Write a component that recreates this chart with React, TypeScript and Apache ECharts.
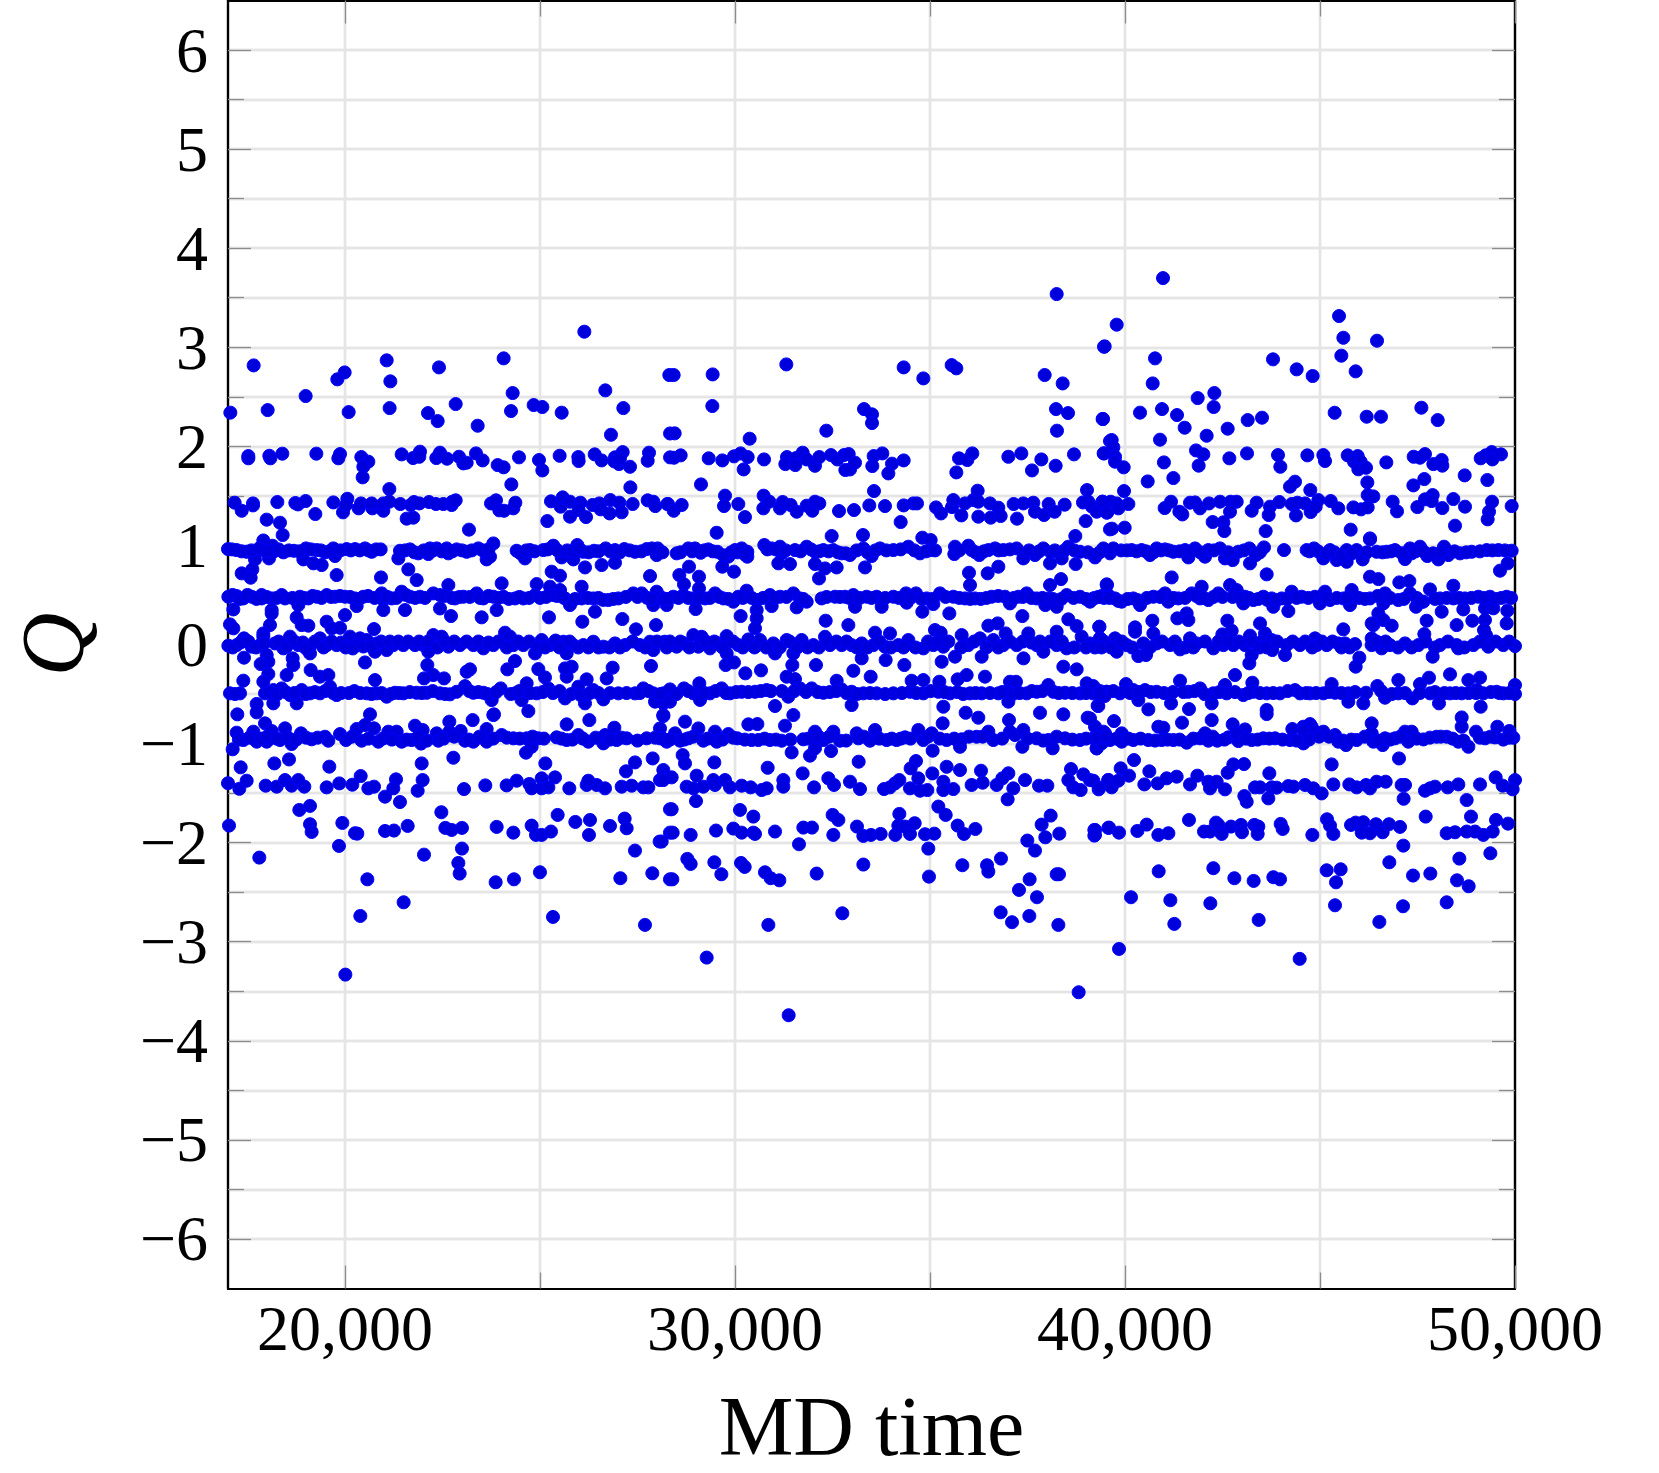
import React, { useEffect, useRef } from "react";
import * as echarts from "echarts";

const xMajor = [20000, 30000, 40000, 50000];
const xMinor = [25000, 35000, 45000];
const yMajor = [-6, -5, -4, -3, -2, -1, 0, 1, 2, 3, 4, 5, 6];
const yMinor = [-5.5, -4.5, -3.5, -2.5, -1.5, -0.5, 0.5, 1.5, 2.5, 3.5, 4.5, 5.5];

const upperLeft = [
[26137,3.157],[17658,2.817],[19991,2.746],[19803,2.676],[21069,2.868],[21163,2.656],[22410,2.797],[24068,2.888],[24299,2.538],[26675,2.565],[28316,2.72],[17060,2.34],[18017,2.366],[18991,2.508],[20094,2.346],[21145,2.386],[22128,2.336],[22376,2.255],[22838,2.427],[23402,2.208],[24257,2.356],[24838,2.417],[25060,2.397],[25556,2.34],[27137,2.386],[26820,2.117],[28335,2.13],
[17521,1.902],[17521,1.879],[18060,1.905],[18086,1.879],[18393,1.926],[19265,1.926],[19872,1.922],[19829,1.879],[20419,1.892],[20598,1.845],[20470,1.794],[20453,1.687],[21453,1.919],[21744,1.882],[21923,1.946],[21906,1.895],[22342,1.882],[22436,1.936],[22616,1.875],[22923,1.895],[23034,1.828],[23120,1.835],[23359,1.929],[23530,1.858],[23915,1.811],[24068,1.788],[24462,1.889],[24265,1.616],[24974,1.862],[25060,1.757],[25504,1.905],[25983,1.892],[25991,1.852],[26402,1.919],[26581,1.858],[26923,1.889],[26906,1.848],[27026,1.821],[27120,1.942],[27051,1.879],[27308,1.794],[27317,1.586],[27795,1.936],[27761,1.855],[28335,1.889],[21137,1.569],
[17171,1.431],[17351,1.35],[17641,1.424],[17641,1.404],[17992,1.26],[18333,1.229],[18402,1.105],[17906,1.05],[18265,1.438],[18727,1.428],[18795,1.414],[18991,1.448],[19239,1.317],[19701,1.434],[19949,1.334],[20060,1.471],[20026,1.408],[20351,1.374],[20410,1.424],[20701,1.374],[20684,1.424],[20983,1.35],[20983,1.424],[21137,1.441],[21419,1.418],[21684,1.408],[21769,1.438],[21906,1.424],[22154,1.438],[22333,1.418],[22521,1.418],[22735,1.408],[22752,1.441],[22838,1.455],[21581,1.27],[21752,1.28],[23179,1.159],[23744,1.424],[23872,1.455],[23957,1.354],[24077,1.35],[24316,1.374],[24368,1.431],[25188,1.246],[25282,1.445],[25530,1.391],[25581,1.485],[25769,1.441],[25769,1.29],[26034,1.431],[25991,1.357],[26180,1.286],[26350,1.408],[26521,1.424],[26555,1.364],[26786,1.323],[26803,1.458],[27034,1.431],[27094,1.334],[27376,1.418],[27761,1.455],[27906,1.441],[27957,1.397],[28282,1.418],
];

const bandsLeft = [
[17000,.963],[17222,.953],[17479,.936],[17692,.92],[17906,.953],[18137,.997],[18419,.93],[18163,.936],[18692,.946],[19000,.97],[19274,.953],[19487,.93],[19701,.97],[19744,.893],[18932,.859],[19188,.819],[19402,.802],[18051,.869],[17692,.859],[17624,.758],[17351,.718],[17581,.674],[19786,.701],[20043,.963],[20257,.963],[20513,.97],[20684,.936],[20915,.96],[21368,.869],[21410,.946],[21667,.96],[21880,.92],[22137,.913],[22180,.97],[22351,.97],[22607,.97],[22650,.92],[22863,.96],[23120,.936],[23419,.97],[23804,1.02],[23632,.859],[23718,.886],[24402,.946],[24615,.869],[24744,.953],[25085,.953],[25342,.997],[25556,.879],[25855,.859],[25957,1.004],[26111,.936],[26385,.946],[26581,.802],[26684,.97],[26923,.825],[26923,.953],[27162,.963],[27436,.936],[27735,.963],[27991,.903],[28017,.97],[26154,.778],[25299,.735],[25513,.694],[27821,.691],[20923,.677],[21624,.758],[21838,.65],[24017,.617],[24915,.61],
[17009,.482],[17222,.489],[17393,.465],[17607,.482],[17863,.465],[17863,.499],[18120,.465],[18376,.499],[18462,.465],[18846,.482],[18804,.398],[19060,.465],[19274,.482],[19530,.499],[19744,.482],[20000,.482],[20257,.465],[20470,.482],[20940,.516],[20983,.449],[21197,.465],[21453,.533],[21667,.482],[21923,.482],[22265,.516],[22436,.499],[22650,.6],[22821,.465],[23034,.482],[23376,.516],[23547,.465],[23804,.482],[24060,.482],[24359,.465],[24573,.465],[24872,.499],[25256,.583],[25513,.55],[25342,.499],[25641,.465],[25769,.398],[26068,.583],[26068,.465],[26367,.465],[26410,.331],[26752,.449],[27009,.465],[27393,.516],[27607,.516],[27991,.533],[27906,.398],[28248,.398],[28077,.482],
[17137,.354],[18120,.348],[18120,.314],[20983,.348],[21538,.348],[22436,.364],[20000,.297],[20299,.388],[22718,.287],[23504,.274],[23889,.348],[25231,.274],[26085,.23],[27111,.257],[27461,.153],[27974,.196],[18761,.274],[18889,.196],[19060,.19],[19530,.23],[19658,.163],[19872,.169],[20744,.156],[18077,.196],[17051,.203],[17137,.163],[17906,.112],
[17009,-.012],[17222,-.006],[17410,.062],[17607,-.022],[17821,-.006],[17906,.079],[18205,.011],[18419,-.039],[18590,.079],[18804,-.006],[19103,-.022],[19103,-.09],[19359,.062],[19530,-.006],[19786,-.006],[20128,.079],[20385,.062],[20299,-.006],[20556,.045],[20769,-.073],[20812,.011],[21068,-.056],[21239,-.006],[21496,-.006],[21795,-.006],[22009,-.006],[22137,-.073],[22265,.095],[22479,.079],[22650,-.022],[22949,-.006],[23291,-.006],[23547,-.039],[23804,-.006],[24103,.119],[24231,.079],[24316,-.006],[24573,-.006],[24872,-.09],[25043,.045],[25256,-.006],[25598,.028],[25684,-.09],[25855,-.006],[26111,-.006],[26368,.028],[26624,-.022],[26923,.011],[27180,-.006],[27564,-.006],[27821,.028],[27906,-.056],[28205,.028],
[17410,-.133],[17992,-.106],[18034,-.174],[17838,-.197],[20513,-.181],[18658,-.14],[18675,-.207],[22111,-.207],[22265,-.308],[22026,-.342],[22539,-.342],[23120,-.275],[23205,-.251],[24162,-.251],[24359,-.167],[24957,-.248],[25128,-.332],[25684,-.325],[25812,-.224],[25641,-.241],[26196,-.352],[26710,-.342],[26863,-.234],[27846,-.217],[19120,-.258],[19359,-.325],[19573,-.308],[18034,-.298],[18504,-.308],[17906,-.375],[17393,-.365],[20769,-.359],
[17051,-.493],[17308,-.493],[17949,-.493],[18163,-.46],[18376,-.443],[18590,-.51],[18761,-.594],[18889,-.46],[19103,-.493],[19359,-.493],[19615,-.426],[19786,-.51],[20239,-.47],[20556,-.493],[20812,-.493],[21068,-.527],[21282,-.487],[21496,-.493],[21838,-.487],[22094,-.487],[22436,-.493],[22692,-.503],[22863,-.477],[23077,-.42],[23291,-.487],[23547,-.487],[23761,-.561],[23992,-.443],[24359,-.493],[24530,-.561],[24658,-.392],[24915,-.493],[25214,-.443],[25641,-.544],[25983,-.426],[26154,-.594],[26368,-.46],[26624,-.554],[27009,-.493],[27436,-.493],[27650,-.443],[27906,-.493],[27949,-.577],[28248,-.493],[18162,-.594],[24701,-.672],[23803,-.712],[28162,-.594],
[17735,-.6],[17735,-.685],[17239,-.705],[20641,-.705],[23273,-.763],[22675,-.779],[23820,-.705],[25684,-.806],[26265,-.763],[28162,-.722],[28077,-.847],[26906,-.84],
[17222,-.89],[17393,-.964],[17650,-.88],[17735,-.981],[17949,-.796],[17992,-.981],[18120,-.873],[18333,-.964],[18462,-.846],[18632,-1.005],[18872,-.897],[19145,-.957],[19487,-.931],[19573,-.971],[19872,-.904],[20026,-.964],[20299,-.853],[20427,-.971],[20513,-.813],[20744,-.846],[20855,-.981],[21111,-.88],[21325,-.88],[21453,-.981],[21709,-.964],[21795,-.82],[21991,-.863],[21949,-1.0],[22351,-.897],[22393,-.971],[22675,-.88],[22966,-.873],[23077,-.971],[23291,-.981],[23632,-.853],[23632,-.981],[24017,-.914],[24316,-.947],[24658,-.947],[24957,-.947],[24786,-1.032],[24641,-1.092],[25427,-.937],[25684,-.964],[25983,-.914],[26239,-.981],[26624,-.998],[26667,-.914],[26966,-.964],[27222,-.947],[27735,-.947],[28077,-.947],[28248,-.981],[17120,-1.058],
[17325,-1.24],[18188,-1.2],[18564,-1.16],[19598,-1.233],[21966,-1.2],[22778,-1.143],[25137,-1.2],[27436,-1.19],[27205,-1.28],[27889,-1.15],[28162,-1.267],
[17000,-1.4],[17291,-1.456],[17479,-1.375],[17966,-1.425],[18248,-1.435],[18462,-1.368],[18632,-1.425],[18803,-1.368],[18957,-1.435],[19530,-1.442],[19855,-1.402],[20188,-1.415],[20402,-1.328],[20598,-1.452],[20744,-1.435],[21308,-1.361],[21239,-1.452],[21991,-1.368],[21863,-1.476],[21026,-1.536],[21410,-1.59],[23051,-1.459],[23598,-1.422],[24145,-1.422],[24402,-1.375],[24727,-1.408],[24786,-1.452],[25043,-1.351],[25043,-1.452],[25214,-1.442],[25385,-1.341],[25752,-1.452],[26197,-1.418],[26453,-1.418],[26667,-1.452],[27094,-1.435],[27350,-1.425],[27650,-1.442],[27778,-1.442],[28162,-1.351],[26239,-1.375],[28077,-1.368],
];

const lowerLeft = [
[18829,-1.67],[19103,-1.629],[19103,-1.814],[19145,-1.892],[19932,-1.801],[20316,-1.909],[20257,-1.905],[21026,-1.882],[21256,-1.878],[21607,-1.831],[22470,-1.693],[22573,-1.851],[22735,-1.872],[22999,-1.851],[23889,-1.841],[24316,-1.899],[24786,-1.828],[24897,-1.922],[25043,-1.922],[25282,-1.888],[25453,-1.72],[25906,-1.791],[26282,-1.771],[26256,-1.922],[26795,-1.831],[27171,-1.757],[27222,-1.855],[28333,-1.663],[28333,-1.899],[17026,-1.828],[17803,-2.151],[19846,-2.033],[22026,-2.121],[22999,-2.06],[22906,-2.205],[22940,-2.312],[27436,-2.08],[28068,-1.989],[20573,-2.37],[23863,-2.4],[24333,-2.37],[24999,-2.299],[27060,-2.359],[27880,-2.309],[28333,-2.37],[21504,-2.602],[20393,-2.74],[25333,-2.75],[27692,-2.83],[20009,-3.332],
];

const upperMiddle = [
[28427,2.72],[29427,2.726],[29419,2.407],[31316,2.827],[34325,2.797],[34829,2.686],[35556,2.82],[35675,2.787],[38248,3.537],[39462,3.005],[37940,2.72],[38402,2.635],[38231,2.376],[38539,2.336],[39427,2.276],[38256,2.158],[28453,2.131],[33308,2.376],[33513,2.323],[33513,2.235],[32342,2.158],[30376,2.077],
[28436,1.885],[28607,1.909],[29325,1.879],[29675,1.858],[29974,1.899],[30145,1.929],[30325,1.892],[30744,1.868],[30222,1.767],[31333,1.892],[31291,1.821],[31564,1.882],[31547,1.811],[31735,1.936],[31838,1.868],[32051,1.804],[32162,1.892],[32461,1.912],[32624,1.868],[32795,1.912],[32915,1.922],[32829,1.761],[32949,1.767],[33077,1.835],[33556,1.902],[33521,1.801],[33778,1.929],[34026,1.825],[33932,1.727],[34325,1.858],[35744,1.879],[35957,1.862],[36085,1.929],[35675,1.737],[37009,1.895],[37342,1.929],[37855,1.868],[37615,1.757],[38222,1.804],[38692,1.919],[39462,1.929],[39615,2.053],[29128,1.616],
[28265,1.418],[28427,1.35],[28633,1.408],[29744,1.502],[29718,1.397],[30085,1.418],[30256,1.286],[30735,1.502],[30727,1.374],[30880,1.441],[31154,1.374],[31222,1.438],[31427,1.408],[31581,1.34],[31838,1.401],[31983,1.35],[32051,1.441],[32162,1.424],[32667,1.347],[33051,1.357],[33444,1.404],[33846,1.397],[33564,1.549],[34325,1.404],[34573,1.424],[34667,1.424],[35154,1.384],[35282,1.323],[35564,1.387],[35598,1.458],[35803,1.303],[35897,1.424],[36111,1.458],[36222,1.552],[36239,1.441],[36239,1.29],[36538,1.424],[36556,1.28],[36752,1.381],[36812,1.297],[37145,1.418],[37393,1.424],[37649,1.431],[37231,1.27],[37692,1.34],[37923,1.307],[38043,1.418],[38197,1.34],[38453,1.411],[38923,1.434],[39060,1.441],[39026,1.559],[39154,1.391],[39274,1.34],[39427,1.441],[39530,1.33],[38992,1.246],[34248,1.236],[29530,1.128],[32479,1.095],[33282,1.105],[34803,1.078],[35017,1.054],[38726,1.095],[39615,1.162],
];

const bandsMiddle = [
[28504,.92],[28803,.97],[28974,.97],[29120,.926],[29316,.96],[29547,.936],[29829,.886],[30000,.953],[30171,.97],[30316,.886],[30316,.936],[30752,1.004],[30940,.97],[31154,.987],[31197,.92],[31538,.953],[31838,.987],[32051,.936],[32265,.953],[32521,.953],[32735,.92],[32949,.903],[33291,.97],[33504,.893],[33718,.97],[34060,.953],[34444,.987],[34744,.92],[35043,.953],[35641,.987],[35624,.913],[35983,.997],[36068,.953],[36265,.903],[36496,.953],[36667,.97],[36880,.953],[37222,.97],[37393,.869],[37692,.903],[37906,.97],[38376,.869],[38547,.987],[38846,.936],[39231,.879],[39444,.953],
[31111,.819],[31410,.812],[32051,.812],[32308,.768],[32607,.778],[33333,.778],[29675,.785],[29974,.735],[28821,.785],[28573,.701],[29077,.684],[28692,.607],[32154,.667],[38077,.819],[38735,.812],[36752,.785],[36479,.718],[36000,.724],[36026,.6],[38077,.6],[38359,.66],[39538,.6],[29077,.566],
[28162,.465],[28419,.482],[28675,.499],[28932,.465],[29231,.465],[29487,.516],[29701,.465],[29957,.432],[30085,.482],[30299,.543],[30556,.449],[30897,.499],[31154,.482],[31496,.516],[31667,.465],[31838,.432],[31581,.375],[30940,.388],[32222,.465],[32564,.482],[32821,.482],[33034,.499],[33077,.381],[33376,.482],[33632,.482],[33761,.381],[34060,.482],[34385,.516],[34402,.422],[34641,.516],[34914,.465],[35256,.516],[35085,.408],[35598,.482],[35897,.465],[36154,.465],[36581,.482],[37051,.415],[36923,.482],[37265,.482],[37478,.516],[37735,.465],[38034,.465],[37957,.398],[38248,.381],[38504,.499],[38846,.482],[39103,.432],[39359,.482],[39572,.499],
[28991,.358],[30145,.287],[30556,.348],[30556,.264],[30513,.163],[32325,.24],[32906,.196],[34803,.331],[35496,.314],[37368,.287],[38547,.254],[38760,.186],[39341,.179],[36496,.19],[36735,.213],[36940,.112],[35128,.146],[35274,.119],
[28162,.021],[28504,-.022],[28718,.011],[28932,.095],[29145,.078],[29060,-.022],[29359,-.039],[29573,.011],[29786,.085],[30085,-.006],[30342,.051],[30641,.045],[30983,.011],[31026,-.09],[31325,.045],[31496,-.09],[31709,.045],[32009,-.006],[32308,.078],[32436,-.006],[32735,-.006],[32991,-.006],[33248,.011],[33248,-.14],[33590,.119],[33547,-.006],[33974,.112],[33846,-.022],[34188,-.006],[34444,.045],[34829,-.039],[35085,-.006],[35342,-.022],[35299,-.174],[35641,-.123],[35812,.095],[35983,-.006],[36325,-.123],[36282,.062],[36624,.045],[36880,-.006],[37222,-.006],[37397,-.14],[37521,.112],[37735,-.006],[37906,-.073],[38248,.129],[38248,-.006],[38504,-.039],[38889,.079],[39102,.011],[39359,.062],[39530,-.006],
[29787,-.09],[29761,-.207],[29974,-.181],[31470,-.207],[32077,-.207],[33034,-.265],[33863,-.157],[34342,-.207],[38419,-.224],[38761,-.251],[30265,-.291],[30667,-.261],
[28162,-.493],[28333,-.453],[28333,-.577],[28692,-.443],[28932,-.493],[29085,-.392],[29103,-.56],[29359,-.493],[29658,-.443],[29872,-.493],[30171,-.477],[30513,-.477],[30812,-.46],[31026,-.621],[31325,-.325],[31538,-.349],[31367,-.527],[31667,-.443],[31966,-.443],[32265,-.487],[32607,-.366],[32735,-.453],[32991,-.611],[32991,-.477],[33291,-.493],[33479,-.325],[33632,-.493],[34060,-.493],[34487,-.477],[34530,-.366],[34829,-.359],[34829,-.493],[35214,-.477],[35239,-.376],[35513,-.493],[35709,-.352],[35940,-.308],[36026,-.493],[36410,-.325],[36325,-.493],[36752,-.493],[37009,-.577],[37051,-.376],[37205,-.376],[36966,-.477],[37479,-.493],[37735,-.477],[38034,-.409],[38162,-.477],[38462,-.487],[38846,-.493],[39017,-.392],[39179,-.493],[39530,-.477],[39299,-.618],
[28162,-.712],[28718,-.779],[31496,-.712],[31282,-.82],[30342,-.806],[30573,-.803],[35342,-.628],[35325,-.796],[35915,-.689],[36239,-.739],[37821,-.689],[38419,-.705],[37026,-.763],[39043,-.739],[39231,-.83],
[28205,-.964],[28462,-.897],[28590,-.971],[28803,-.947],[29060,-.847],[29188,-.971],[29487,-.88],[29530,-.981],[29829,-.904],[30060,-.947],[30427,-.964],[30598,-.964],[30897,-.964],[31197,-.971],[31752,-.957],[32051,-.88],[32265,-.964],[32521,-.88],[32692,-.971],[33120,-.897],[33162,-.947],[33461,-.971],[33590,-.863],[33889,-.964],[34145,-.964],[34359,-.937],[34701,-.863],[34829,-.964],[35043,-.897],[35068,-1.072],[35427,-.964],[35769,-1.032],[35812,-.957],[36196,-.931],[36496,-.88],[36624,-.964],[37051,-.88],[37179,-.914],[37368,-1.032],[37393,-.863],[37735,-.947],[38145,-1.048],[38034,-.964],[38462,-.947],[38846,-.964],[39274,-1.048],[39359,-.947],[39487,-.897],
[31453,-1.089],[31923,-1.122],[32051,-1.048],[32462,-1.075],[28658,-1.116],[28718,-1.2],[29470,-1.19],[30838,-1.244],[33171,-1.183],[34641,-1.176],[34504,-1.25],[35427,-1.234],[35769,-1.267],[36308,-1.274],[37009,-1.3],[38616,-1.257],[38932,-1.311],[31735,-1.301],[35060,-1.301],
[28162,-1.338],[28376,-1.341],[28162,-1.368],[28761,-1.435],[29017,-1.324],[28932,-1.452],[29188,-1.435],[29444,-1.368],[29487,-1.418],[29744,-1.368],[29872,-1.442],[30171,-1.425],[30402,-1.442],[30684,-1.469],[30812,-1.452],[31239,-1.368],[31239,-1.435],[32026,-1.442],[32393,-1.351],[32538,-1.418],[32949,-1.385],[33205,-1.459],[33820,-1.459],[33974,-1.442],[34103,-1.402],[34214,-1.368],[34487,-1.452],[34701,-1.351],[34744,-1.476],[34932,-1.469],[35342,-1.385],[35598,-1.459],[35342,-1.469],[36068,-1.418],[36350,-1.395],[36709,-1.418],[36855,-1.351],[37137,-1.452],[37436,-1.368],[37795,-1.425],[38009,-1.425],[38547,-1.368],[38675,-1.442],[38863,-1.469],[39102,-1.368],[39325,-1.462],[39572,-1.368],[36991,-1.563],[29000,-1.58],
];

const lowerMiddle = [
[28376,-1.663],[28402,-1.899],[28863,-1.922],[29513,-1.878],[29957,-1.858],[30171,-1.899],[30470,-1.737],[30128,-1.67],[30470,-1.899],[30513,-1.912],[31026,-1.888],[31641,-2.016],[31752,-1.848],[31974,-1.848],[32521,-1.922],[32504,-1.72],[32650,-1.771],[33128,-1.838],[33291,-1.932],[33487,-1.922],[33735,-1.912],[34111,-1.922],[34214,-1.71],[34188,-1.828],[34359,-1.838],[34487,-1.912],[34607,-1.804],[34872,-1.915],[35111,-1.909],[34957,-2.06],[35214,-1.636],[35402,-1.72],[35709,-1.828],[35872,-1.912],[36162,-1.862],[28120,-1.989],[37496,-1.979],[37692,-2.08],[37863,-1.818],[38094,-1.727],[37957,-1.946],[38316,-1.909],[39214,-1.872],[39214,-1.929],[39573,-1.851],[28778,-2.164],[28863,-2.215],[29470,-2.198],[29650,-2.319],[28393,-2.37],[30154,-2.205],[30248,-2.245],[30769,-2.299],[30915,-2.359],[31137,-2.38],[32094,-2.312],[33291,-2.221],[34974,-2.343],[35829,-2.228],[36462,-2.228],[36496,-2.292],[36820,-2.161],[37555,-2.37],[37282,-2.477],[37743,-2.551],[38248,-2.319],[38308,-2.319],[30855,-2.83],[32752,-2.713],[36812,-2.703],[37103,-2.803],[37547,-2.74],[38291,-2.83],[29274,-3.16],[31376,-3.742],[38812,-3.51],
];

const upperRight = [
[40975,3.698],[39787,3.228],[39479,3.009],[40770,2.888],[40710,2.635],[43795,2.878],[44402,2.777],[44812,2.71],[45488,3.315],[45599,3.096],[45547,2.915],[46462,3.066],[45915,2.757],[41864,2.487],[42291,2.538],[42274,2.397],[39436,2.276],[40385,2.34],[40949,2.376],[41334,2.316],[41530,2.188],[42094,2.107],[42633,2.178],[43146,2.265],[43513,2.289],[45376,2.339],[46197,2.299],[46564,2.299],[47599,2.39],[48018,2.265],[40898,2.067],[39659,2.064],[39701,1.99],[39453,1.929],[39744,1.895],[39744,1.845],[39966,1.788],[40998,1.838],[41821,1.959],[42009,1.919],[41889,1.805],[42676,1.879],[43129,1.929],[43923,1.912],[43983,1.794],[44676,1.909],[45086,1.912],[45129,1.852],[45710,1.909],[45966,1.902],[45872,1.845],[46043,1.845],[45983,1.768],[46180,1.784],[46701,1.838],[47402,1.895],[47564,1.885],[47692,1.922],[47906,1.821],[48120,1.862],[48137,1.805],[49120,1.879],[49248,1.909],[49402,1.942],[49419,1.868],[49641,1.919],[48710,1.707],[49291,1.66],[47675,1.67],[47394,1.606],[46214,1.636],[40582,1.646],[41240,1.68],[44359,1.643],[44231,1.593],[44752,1.559],
[39419,1.441],[39547,1.334],[39633,1.441],[39787,1.424],[39829,1.374],[40086,1.418],[39975,1.549],[41017,1.377],[41180,1.441],[41394,1.34],[41470,1.313],[41667,1.431],[41795,1.434],[41923,1.374],[42154,1.424],[42436,1.441],[42710,1.441],[42864,1.441],[42693,1.34],[42248,1.236],[42522,1.233],[42547,1.145],[43248,1.35],[43376,1.431],[43718,1.391],[43958,1.438],[44274,1.418],[44419,1.431],[44385,1.303],[44616,1.424],[44761,1.337],[44958,1.458],[44889,1.391],[45274,1.448],[45470,1.374],[45855,1.384],[46052,1.364],[46223,1.384],[46223,1.508],[46368,1.495],[46863,1.441],[46975,1.344],[47496,1.387],[47692,1.465],[47889,1.508],[47863,1.448],[48137,1.377],[48419,1.468],[48718,1.391],[49411,1.441],[49334,1.34],[49299,1.263],[49915,1.397],[43684,1.307],[43607,1.145],[45787,1.159],[46282,1.071],[48462,1.199],[39667,1.169],[39992,1.179],
];

const bandsRight = [
[39231,.903],[39445,.97],[39616,.92],[39701,.97],[40171,.953],[40427,.953],[40641,.903],[40812,.97],[41026,.96],[41240,.936],[41539,.953],[41624,.879],[41795,.97],[42052,.886],[42137,.953],[42436,.97],[42564,.869],[42761,.852],[42906,.936],[43205,.819],[43188,.97],[43359,.903],[43564,.98],[44077,.953],[44658,.953],[44847,.97],[45086,.869],[45257,.953],[45428,.852],[45684,.835],[45684,.953],[45940,.953],[46094,.859],[46282,1.061],[46453,.936],[46710,.936],[46923,.953],[47180,.862],[47308,.97],[47564,.987],[47351,.92],[47752,.893],[48034,.859],[48180,.987],[48291,.903],[48590,.92],[48890,.936],[49274,.953],[49573,.953],[49915,.947],[49812,.819],[49615,.745],
[41197,.677],[43633,.708],[46282,.684],[46496,.66],[47034,.627],[47291,.64],
[39188,.465],[39445,.499],[39744,.465],[39915,.432],[40214,.465],[40385,.398],[40727,.482],[41026,.516],[41111,.432],[41368,.465],[41710,.516],[41966,.583],[41924,.465],[42137,.449],[42393,.516],[42693,.6],[42864,.55],[43077,.482],[43034,.415],[43291,.449],[43547,.482],[43803,.381],[43761,.465],[44188,.338],[44017,.465],[44274,.533],[44530,.482],[44872,.482],[45000,.415],[45128,.533],[45257,.449],[45599,.465],[45812,.55],[45769,.398],[46282,.465],[46667,.516],[46624,.415],[47009,.449],[47308,.516],[47462,.381],[47650,.432],[47820,.556],[48120,.331],[48077,.465],[48419,.593],[48419,.465],[48675,.354],[48718,.465],[49060,.482],[49231,.365],[49445,.365],[49359,.482],[49786,.482],[49804,.341],[49786,.213],[39530,.607],
[46496,.314],[46624,.247],[46838,.19],[46368,.196],[46325,.213],[47735,.24],[48504,.196],[48906,.24],[49231,.247],[49205,.146],[49257,.095],[40701,.24],[41342,.264],[41581,.314],[41624,.247],[42624,.24],[43462,.213],[39342,.179],[40257,.173],[40257,.129],[40727,.112],[42735,.139],[42496,.102],[43205,.089],[43590,.112],[45598,.153],[46325,.062],[47675,.105],
[39231,-.006],[39359,.062],[39744,.062],[39530,-.006],[39787,-.073],[40043,-.006],[40470,.011],[40342,-.117],[40539,-.106],[40812,.011],[41154,-.006],[41411,-.049],[41667,.062],[41838,.011],[42265,-.039],[42522,-.006],[42778,-.006],[43077,-.006],[43248,-.106],[43188,-.19],[43505,.028],[43761,.045],[43778,-.056],[44103,-.106],[44145,-.006],[44487,-.006],[44872,.062],[44915,-.006],[45171,-.006],[45470,.011],[45641,.011],[45898,.004],[46325,-.006],[46581,-.039],[46795,-.006],[47180,.011],[47522,-.006],[47889,-.123],[48077,-.006],[48505,-.006],[48547,-.039],[48932,-.006],[49316,-.022],[49701,-.006],[50000,-.016],
[46009,-.133],[45915,-.224],[42821,-.308],[48334,-.301],
[39188,-.42],[39530,-.477],[39872,-.493],[40026,-.399],[40342,-.561],[40214,-.46],[40513,-.46],[40812,-.477],[40599,-.655],[41180,-.594],[41411,-.366],[41624,-.477],[41641,-.652],[41924,-.443],[42223,-.594],[42265,-.493],[42564,-.409],[42607,-.493],[43034,-.51],[43265,-.386],[43291,-.477],[43633,-.493],[43633,-.661],[43633,-.702],[43975,-.493],[44359,-.46],[44487,-.493],[44744,-.493],[45086,-.493],[45299,-.399],[45385,-.487],[45727,-.577],[45727,-.493],[46111,-.594],[46180,-.487],[46470,-.419],[46667,-.537],[47009,-.359],[47009,-.493],[47368,-.544],[47564,-.399],[47795,-.335],[47821,-.493],[48051,-.594],[48334,-.493],[48633,-.493],[48804,-.359],[49103,-.335],[49017,-.46],[49120,-.628],[49188,-.493],[49530,-.477],[49701,-.493],[50000,-.409],[50000,-.5],[39316,-.621],
[39103,-.746],[39718,-.773],[41462,-.789],[42223,-.763],[42761,-.806],[40855,-.83],[40983,-.84],[43077,-.857],[46325,-.796],[48633,-.736],[48633,-.83],[49547,-.83],[49855,-.873],[44291,-.853],[44573,-.83],[44744,-.803],[44786,-.83],
[39188,-.947],[39445,-.88],[39274,-1.048],[39402,-.998],[39616,-.964],[39915,-.897],[39915,-.981],[40214,-.964],[40598,-.964],[40940,-.964],[41239,-.964],[41581,-.991],[41924,-.947],[42052,-.897],[42137,-.971],[42368,-.971],[42650,-.937],[42906,-.974],[42864,-.897],[43248,-.964],[43547,-.947],[43847,-.947],[44231,-.964],[44573,-.998],[44573,-.863],[44872,-.88],[45086,-.88],[45385,-.914],[45470,-.981],[45667,-1.015],[45940,-.964],[46325,-.897],[46368,-.981],[46607,-1.015],[46667,-.947],[46923,-.947],[47180,-.88],[47351,-.88],[47265,-.981],[47650,-.958],[47992,-.931],[48248,-.931],[48547,-.981],[48804,-1.032],[49000,-.88],[49231,-.947],[49487,-.937],[49957,-.941],
[40231,-1.166],[39889,-1.25],[40103,-1.324],[40624,-1.28],[42778,-1.21],[43052,-1.207],[42633,-1.294],[43701,-1.3],[45299,-1.21],[47026,-1.15],
[39188,-1.375],[39342,-1.446],[39573,-1.368],[39658,-1.442],[39829,-1.375],[40496,-1.412],[40838,-1.402],[41069,-1.351],[41325,-1.334],[41667,-1.412],[41855,-1.324],[42137,-1.385],[42180,-1.452],[42351,-1.385],[42564,-1.462],[43060,-1.53],[43120,-1.587],[43334,-1.442],[43462,-1.442],[43675,-1.553],[43761,-1.442],[43889,-1.445],[44188,-1.429],[44316,-1.435],[44616,-1.418],[44829,-1.452],[45043,-1.503],[45342,-1.412],[45752,-1.412],[45940,-1.442],[46180,-1.418],[46282,-1.452],[46453,-1.385],[46684,-1.385],[47094,-1.418],[47180,-1.418],[47145,-1.557],[47692,-1.476],[47821,-1.452],[47949,-1.435],[48274,-1.442],[48547,-1.412],[49103,-1.412],[48761,-1.57],[49504,-1.341],[49684,-1.425],[50000,-1.368],[49940,-1.462],
];

const lowerRight = [
[39231,-1.872],[39231,-1.922],[39590,-1.848],[39847,-1.899],[40317,-1.882],[40556,-1.818],[40855,-1.922],[41112,-1.905],[41641,-1.771],[42026,-1.888],[42180,-1.888],[42334,-1.798],[42394,-1.821],[42479,-1.912],[42718,-1.838],[42975,-1.821],[43000,-1.895],[43317,-1.821],[43419,-1.838],[43402,-1.912],[43992,-1.811],[44043,-1.862],[44804,-1.922],[45180,-1.764],[45257,-1.828],[45342,-1.912],[45795,-1.821],[45915,-1.798],[46112,-1.794],[46069,-1.899],[46282,-1.905],[46436,-1.814],[46607,-1.895],[46769,-1.814],[47052,-1.841],[47710,-1.737],[48248,-1.905],[48462,-1.895],[48761,-1.888],[48975,-1.888],[49188,-1.922],[49428,-1.888],[48872,-1.737],[49513,-1.771],[49821,-1.808],[47137,-2.03],[40864,-2.289],[42265,-2.258],[42804,-2.359],[43299,-2.386],[43804,-2.349],[43975,-2.37],[45171,-2.279],[45530,-2.269],[45411,-2.4],[46778,-2.198],[47385,-2.332],[47829,-2.312],[48573,-2.161],[49368,-2.107],[48513,-2.38],[48812,-2.44],[40154,-2.551],[41163,-2.581],[42188,-2.612],[45385,-2.632],[47129,-2.642],[48248,-2.602],[41265,-2.82],[43428,-2.78],[46522,-2.8],[39847,-3.073],[44479,-3.173],
];

const bandNearOne = [
[17100,.96],[17350,.94],[17600,.95],[17800,.97],[18020,.94],[18300,.96],[18560,.95],[18830,.94],[19130,.96],[19380,.95],[19600,.94],[19880,.95],[20150,.95],[20380,.95],[20600,.95],[20800,.96],[21540,.95],[21780,.93],[22020,.95],[22260,.95],[22480,.94],[22750,.94],[23000,.95],[23250,.95],[23530,.95],[23680,.96],[24500,.92],[24650,.95],[24860,.94],[25200,.96],[25450,.95],[25700,.95],[25850,.94],[26000,.97],[26250,.93],[26500,.94],[26800,.94],[27050,.93],[27300,.95],[27600,.94],[27870,.97],[28140,.93],
[28600,.93],[28900,.94],[29210,.95],[29430,.94],[29700,.9],[29900,.93],[30070,.93],[30250,.91],[30830,.96],[31050,.96],[31300,.95],[31680,.94],[31950,.96],[32160,.94],[32400,.94],[32640,.93],[32840,.92],[33120,.95],[33400,.93],[33600,.95],[33880,.95],[34250,.96],[34600,.95],[34900,.94],[35130,.95],[35750,.95],[36170,.93],[36380,.94],[36760,.95],[37050,.96],[37540,.95],[37800,.94],[38100,.93],[38200,.95],[38450,.95],[38700,.95],[39050,.93],[39350,.93],
[39900,.95],[40050,.95],[40300,.94],[40540,.94],[40730,.93],[40920,.95],[41130,.95],[41400,.94],[41700,.94],[41930,.93],[42280,.95],[42650,.93],[43050,.95],[43460,.93],[44730,.94],[44950,.94],[45170,.92],[45370,.93],[45560,.9],[45820,.92],[46200,.93],[46600,.93],[46820,.94],[47100,.92],[47450,.94],[47650,.94],[47900,.92],[48100,.93],[48450,.94],[48750,.93],[49100,.94],[49420,.95],[49740,.95],
];

const bandNearHalf = [
[17120,.5],[17300,.46],[17500,.5],[17730,.46],[17990,.48],[18250,.47],[18650,.47],[18950,.47],[19170,.49],[19400,.47],[19640,.48],[19870,.49],[20130,.48],[20360,.46],[20590,.49],[20760,.47],[21090,.48],[21320,.47],[21560,.5],[21800,.47],[22050,.47],[22550,.49],[22740,.47],[22930,.48],[23200,.48],[23460,.47],[23680,.49],[23930,.47],[24200,.46],[24470,.48],[24720,.47],[25000,.47],[25160,.48],[25430,.49],[25580,.48],[25900,.46],[26230,.47],[26500,.47],[26620,.45],[26880,.46],[27200,.48],[27500,.48],[27750,.47],[27850,.46],[28180,.46],
[28290,.46],[28550,.47],[28800,.47],[29080,.47],[29360,.47],[29600,.48],[29830,.46],[30200,.47],[30430,.47],[30720,.47],[31030,.47],[31320,.48],[31750,.46],[32350,.48],[32690,.48],[32930,.47],[33200,.47],[33500,.47],[33850,.47],[34200,.47],[34500,.47],[34780,.46],[35070,.46],[35400,.48],[35750,.47],[36030,.46],[36300,.46],[36450,.47],[36750,.49],[37150,.47],[37380,.48],[37600,.47],[37880,.47],[38150,.46],[38370,.46],[38680,.47],[39000,.46],[39230,.47],[39460,.47],
[39310,.48],[39600,.47],[39830,.44],[40070,.46],[40310,.45],[40560,.47],[40900,.48],[41240,.47],[41540,.47],[41830,.49],[42030,.47],[42270,.48],[42500,.48],[42760,.48],[42960,.47],[43180,.47],[43420,.46],[43650,.45],[43890,.45],[44150,.46],[44400,.47],[44700,.47],[45170,.47],[45430,.47],[45700,.47],[46000,.47],[46150,.46],[46480,.49],[46800,.47],[47150,.46],[47480,.47],[47600,.43],[47950,.46],[48250,.47],[48570,.47],[48880,.47],[49200,.47],[49500,.46],[49650,.47],[49900,.47],
];

const bandNearZero = [
[17120,-.03],[17320,.02],[17520,.03],[17720,-.03],[17920,.01],[18300,.03],[18500,-.02],[18700,.03],[18920,.02],[19000,-.04],[19230,.03],[19450,-.03],[19660,.03],[19900,.02],[20020,-.03],[20200,-.04],[20470,-.02],[20670,-.02],[20930,.03],[21150,.03],[21370,.03],[21620,.03],[21900,.03],[22130,.03],[22370,-.03],[22560,.03],[22800,.03],[23120,.03],[23420,.03],[23680,.02],[23930,.03],[24150,-.03],[24440,.03],[24720,.03],[24950,-.03],[25130,-.03],[25400,.04],[25500,-.03],[25760,.03],[25980,-.03],[26240,-.03],[26500,-.03],[26780,-.03],[27050,-.03],[27370,.03],[27700,-.03],[28000,.03],[28250,-.03],
[28330,.03],[28600,.03],[28830,-.03],[29250,.03],[29470,.03],[29680,-.03],[29950,.03],[30200,-.03],[30500,-.03],[30800,-.03],[31150,-.03],[31400,.03],[31600,-.03],[31860,-.03],[32150,-.03],[32370,.03],[32600,.03],[32860,.03],[33120,-.03],[33400,-.03],[33700,.03],[34000,-.03],[34320,-.03],[34630,-.03],[34950,.03],[35220,.03],[35470,.03],[35800,-.03],[36130,.03],[36450,-.03],[36750,-.03],[37050,.03],[37380,.03],[37600,.02],[37820,.03],[38080,.03],[38380,.03],[38700,-.03],[39000,-.03],[39230,-.03],[39460,.03],
[39400,-.03],[39640,-.03],[39920,.03],[40180,-.03],[40640,-.03],[40950,.03],[41280,.03],[41540,-.03],[41750,-.03],[42050,.03],[42400,.03],[42650,.03],[42920,.03],[43250,.03],[43450,-.03],[43640,-.03],[43900,.03],[44300,.03],[44620,.03],[44800,-.03],[45050,.03],[45320,.03],[45550,-.03],[45760,-.03],[46450,.03],[46680,.03],[47000,-.03],[47350,-.03],[47700,.03],[47950,-.03],[48280,.03],[48700,-.03],[49100,.03],[49500,.03],[49850,.03],
];

const bandNearMinusHalf = [
[17180,-.5],[18060,-.48],[18270,-.5],[18480,-.48],[18700,-.49],[18990,-.5],[19230,-.48],[19490,-.47],[19700,-.49],[19900,-.49],[20100,-.49],[20390,-.49],[20680,-.5],[20940,-.49],[21170,-.5],[21390,-.49],[21660,-.48],[21970,-.49],[22250,-.47],[22570,-.5],[23190,-.47],[23420,-.48],[23650,-.5],[23880,-.48],[24250,-.5],[24470,-.47],[24750,-.49],[25070,-.48],[25330,-.49],[25500,-.47],[25800,-.5],[26040,-.51],[26280,-.49],[26500,-.49],[26800,-.49],[27220,-.49],[27560,-.49],[27780,-.47],[28090,-.5],
[28500,-.5],[28800,-.47],[29220,-.49],[29500,-.47],[29770,-.49],[30030,-.48],[30340,-.48],[30660,-.47],[30920,-.47],[31200,-.47],[31520,-.47],[31820,-.48],[32120,-.48],[32430,-.48],[32600,-.47],[32860,-.49],[33130,-.5],[33460,-.49],[33850,-.5],[34280,-.49],[34650,-.49],[35020,-.47],[35370,-.48],[35700,-.48],[35850,-.5],[36170,-.49],[36540,-.49],[36850,-.48],[37120,-.5],[37300,-.49],[37610,-.47],[37880,-.47],[38300,-.49],[38650,-.49],[39000,-.49],[39360,-.47],[39480,-.52],
[39350,-.49],[39700,-.47],[40000,-.47],[40130,-.49],[40360,-.48],[40660,-.48],[41000,-.49],[41230,-.48],[41500,-.48],[41780,-.47],[42040,-.5],[42420,-.48],[42820,-.48],[43160,-.49],[43460,-.49],[43800,-.49],[44170,-.47],[44650,-.49],[44900,-.49],[45220,-.48],[45550,-.49],[45900,-.48],[46570,-.47],[46840,-.5],[47180,-.49],[47560,-.49],[47950,-.48],[48190,-.49],[48480,-.49],[48810,-.49],[49000,-.49],[49380,-.48],[49600,-.49],[49850,-.49],
];

const bandNearMinusOne = [
[17280,-.96],[17550,-.94],[17850,-.95],[18000,-.93],[18250,-.95],[18540,-.94],[18750,-.96],[19000,-.94],[19300,-.94],[20180,-.93],[20600,-.95],[20970,-.95],[21200,-.96],[21580,-.96],[21880,-.93],[22100,-.97],[22530,-.95],[22800,-.93],[23180,-.96],[23450,-.93],[23800,-.95],[24150,-.94],[24480,-.95],[24810,-.93],[25100,-.95],[25550,-.95],[25830,-.96],[26100,-.95],[26430,-.94],[26800,-.96],[27090,-.94],[27500,-.97],[27950,-.94],[28150,-.95],
[28330,-.96],[28700,-.96],[28930,-.93],[29300,-.95],[29680,-.96],[29950,-.94],[30250,-.96],[30760,-.95],[31050,-.96],[31420,-.96],[31880,-.95],[32140,-.93],[32420,-.93],[32850,-.97],[33300,-.93],[33700,-.95],[34020,-.95],[34250,-.95],[34500,-.95],[34950,-.93],[35250,-.95],[35620,-.95],[36000,-.93],[36350,-.93],[36850,-.95],[37500,-.95],[37900,-.97],[38250,-.93],[38650,-.96],[39000,-.95],[39450,-.93],
[39300,-.94],[39530,-.93],[39780,-.95],[40090,-.95],[40400,-.95],[40770,-.97],[41090,-.96],[41400,-.96],[41750,-.95],[42250,-.93],[42550,-.96],[43100,-.95],[43400,-.96],[43700,-.95],[44040,-.96],[44400,-.97],[44720,-.96],[44980,-.93],[45230,-.93],[45590,-.97],[45800,-.96],[46150,-.93],[46500,-.97],[46800,-.96],[47060,-.93],[47480,-.95],[47820,-.94],[48100,-.93],[48400,-.95],[48680,-.97],[49100,-.94],[49370,-.93],[49700,-.96],[49850,-.94],
];

const allPoints = [
  ...upperLeft, ...bandsLeft, ...lowerLeft,
  ...upperMiddle, ...bandsMiddle, ...lowerMiddle,
  ...upperRight, ...bandsRight, ...lowerRight,
  ...bandNearOne, ...bandNearHalf, ...bandNearZero, ...bandNearMinusHalf, ...bandNearMinusOne,
];

const FONT = "'Liberation Serif', serif";
const TICK = { color: "#8c8c8c", width: 1.3 };
const GRID_LINE = { color: "#e5e5e5", width: 2.4 };
const FRAME = { color: "#000", width: 2.2 };

function xAxisOf(position: string, ticks: number[], len: number, labelled: boolean, named: boolean) {
  return {
    type: "value", position, min: 17000, max: 50000,
    name: named ? "MD time" : "",
    nameLocation: "middle", nameGap: 96,
    nameTextStyle: { fontFamily: FONT, fontSize: 84, color: "#000" },
    axisLine: { show: true, onZero: false, lineStyle: FRAME },
    axisTick: { show: true, inside: true, length: len, lineStyle: TICK, customValues: ticks },
    axisLabel: {
      show: labelled, customValues: ticks, margin: 8, hideOverlap: false,
      fontFamily: FONT, fontSize: 64, color: "#000",
      formatter: (v: number) => v.toLocaleString("en-US"),
    },
    splitLine: { show: true, lineStyle: GRID_LINE },
  };
}

function yAxisOf(position: string, ticks: number[], len: number, labelled: boolean, named: boolean) {
  return {
    type: "value", position, min: -6.5, max: 6.5,
    name: named ? "Q" : "",
    nameLocation: "middle", nameGap: 138, nameRotate: 90,
    nameTextStyle: { fontFamily: FONT, fontSize: 88, lineHeight: 76, fontStyle: "italic", color: "#000" },
    axisLine: { show: true, onZero: false, lineStyle: FRAME },
    axisTick: { show: true, inside: true, length: len, lineStyle: TICK, customValues: ticks },
    axisLabel: {
      show: labelled, customValues: ticks, margin: 20, hideOverlap: false,
      fontFamily: FONT, fontSize: 64, color: "#000",
      formatter: (v: number) => String(v).replace("-", "\u2212"),
    },
    splitLine: { show: true, lineStyle: GRID_LINE },
  };
}

export default function App() {
  const ref = useRef<HTMLDivElement>(null);
  useEffect(() => {
    const chart = echarts.init(ref.current!, null, { renderer: "svg" });
    chart.setOption({
      animation: false,
      backgroundColor: "#fff",
      grid: { left: 228, right: 144, top: 0.5, bottom: 184.5, outerBoundsMode: "none" },
      xAxis: [
        xAxisOf("bottom", xMajor, 23, true, true),
        xAxisOf("top", xMajor, 23, false, false),
        xAxisOf("bottom", xMinor, 16, false, false),
        xAxisOf("top", xMinor, 16, false, false),
      ],
      yAxis: [
        yAxisOf("left", yMajor, 23, true, true),
        yAxisOf("right", yMajor, 23, false, false),
        yAxisOf("left", yMinor, 16, false, false),
        yAxisOf("right", yMinor, 16, false, false),
      ],
      series: [{
        type: "scatter", xAxisIndex: 0, yAxisIndex: 0, data: allPoints,
        symbol: "circle", symbolSize: 13, clip: false,
        itemStyle: { color: "#0000dd", borderColor: "#0000ff", borderWidth: 1, opacity: 1 },
        emphasis: { disabled: true },
      }],
    });
    return () => chart.dispose();
  }, []);
  return <div ref={ref} style={{ position: "absolute", left: 0, top: 0, width: 1659, height: 1473 }} />;
}
